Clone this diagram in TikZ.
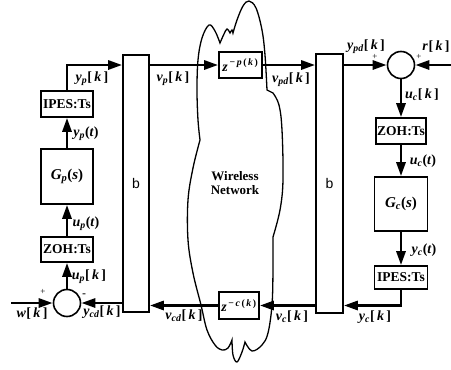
\documentclass[tikz,border=0pt]{standalone}
\usepackage{fontspec}
\setmainfont{Liberation Serif}
\newfontfamily\sansb{Liberation Sans}
\usetikzlibrary{positioning,arrows.meta,shapes}

% signal labels
\newcommand{\sgk}[2]{\textbf{\textit{#1}\textsubscript{\textit{#2}}[\,\textit{k}\,]}}
\newcommand{\sgt}[2]{\textbf{\textit{#1}\textsubscript{\textit{#2}}(\textit{t})}}
\newcommand{\sgs}[2]{\textbf{\textit{#1}\textsubscript{\textit{#2}}(\textit{s})}}

\tikzset{
  blk/.style={draw, line width=1.6pt, inner sep=0pt, font=\fontsize{13.5}{15}\selectfont\bfseries},
  sumnode/.style={circle, draw, line width=1.6pt, minimum size=27pt, inner sep=0pt},
  sig/.style={line width=2.8pt, -{Triangle[length=14pt,width=9pt]}},
  lbl/.style={inner sep=0pt, font=\fontsize{14}{16}\selectfont},
  sgn/.style={inner sep=0pt, font=\fontsize{9}{10}\selectfont}
}

\begin{document}
\begin{tikzpicture}[x=1pt,y=-1pt]
  \useasboundingbox (0,0) rectangle (451,370);
  % cloud
  \draw[line width=1.3pt]
    plot[smooth,tension=0.6] coordinates {(200,140) (198,120) (197,90) (198,60) (202,38) (209,25) (215,31) (220,43)}
    -- plot[smooth,tension=0.6] coordinates {(220,43) (224,34) (227,29) (230,33)}
    -- plot[smooth,tension=0.6] coordinates {(230,33) (232,30) (233,33)}
    -- plot[smooth,tension=0.6] coordinates {(233,33) (237,20) (243,6) (249,1) (256,8) (262,30) (265,55) (267,90)}
    -- (273,93)
    -- plot[smooth,tension=0.6] coordinates {(273,93) (279,105) (282,130) (283,180) (280,210) (273,237)}
    -- plot[smooth,tension=0.6] coordinates {(273,237) (273,270) (272,305) (268,333) (262,345) (252,351) (245,342)}
    -- plot[smooth,tension=0.6] coordinates {(245,342) (242,352) (237,362) (233,355) (232,340)}
    -- plot[smooth,tension=0.6] coordinates {(232,340) (228,348) (222,350) (215,345) (207,330) (201,305) (193,273) (188,240) (188,200) (193,168) (200,140)};
  \node[lbl, align=center, font=\fontsize{13}{14}\selectfont\bfseries] (net) at (235,183) {Wireless\\Network};

  % plant side
  \node[blk, minimum width=52pt, minimum height=26pt] (ipesL) at (67,104) {IPES:Ts};
  \node[blk, minimum width=52pt, minimum height=55pt, font=\fontsize{15}{17}\selectfont] (gpL) at (67,176.5) {\sgs{G}{p}};
  \node[blk, minimum width=52pt, minimum height=25pt] (zohL) at (67,249.5) {ZOH:Ts};
  \node[sumnode] (sumL) at (67,303) {};
  \node[blk, minimum width=26pt, minimum height=257pt, font=\fontsize{14}{16}\sansb] (bL) at (136,183.5) {b};

  % network delays
  \node[blk, minimum width=43pt, minimum height=26pt, font=\fontsize{14}{16}\selectfont] (zp) at (240.5,65)
    {\textbf{\textit{z}}\textsuperscript{\textbf{\,−\,\textit{p}\,(\,\textit{k}\,)}}};
  \node[blk, minimum width=40pt, minimum height=27pt, font=\fontsize{14}{16}\selectfont] (zc) at (239,305.5)
    {\textbf{\textit{z}}\textsuperscript{\textbf{\,−\,\textit{c}\,(\,\textit{k}\,)}}};

  % controller side
  \node[blk, minimum width=27pt, minimum height=259pt, font=\fontsize{14}{16}\sansb] (bR) at (329.5,183.5) {b};
  \node[sumnode] (sumR) at (401,65) {};
  \node[blk, minimum width=50pt, minimum height=26pt] (zohR) at (401,131) {ZOH:Ts};
  \node[blk, minimum width=53pt, minimum height=54pt, font=\fontsize{15}{17}\selectfont] (gcR) at (401,204) {\sgs{G}{c}};
  \node[blk, minimum width=53pt, minimum height=23pt] (ipesR) at (401,277.5) {IPES:Ts};

  \coordinate (win) at (11,303);
  \coordinate (rin) at (451,65);

  % connectors
  \draw[sig] (ipesL.north) |- (bL.west |- zp);
  \draw[sig] (gpL.north) -- (ipesL.south);
  \draw[sig] (zohL.north) -- (gpL.south);
  \draw[sig] (sumL.north) -- (zohL.south);
  \draw[sig] (win) -- (sumL.west);
  \draw[sig] (bL.west |- sumL) -- (sumL.east);
  \draw[sig] (bL.east |- zp) -- (zp.west);
  \draw[sig] (zp.east) -- (bR.west |- zp);
  \draw[sig] (bR.east |- sumR) -- (sumR.west);
  \draw[sig] (rin) -- (sumR.east);
  \draw[sig] (sumR.south) -- (zohR.north);
  \draw[sig] (zohR.south) -- (gcR.north);
  \draw[sig] (gcR.south) -- (ipesR.north);
  \draw[sig] (ipesR.south) |- (bR.east |- zc);
  \draw[sig] (bR.west |- zc) -- (zc.east);
  \draw[sig] (zc.west) -- (bL.east |- zc);

  % labels
  \node[lbl] (lypk) at (92,79) {\sgk{y}{p}};
  \node[lbl] (lypt) at (86,134) {\sgt{y}{p}};
  \node[lbl] (lupt) at (86,224) {\sgt{u}{p}};
  \node[lbl] (lupk) at (89,277) {\sgk{u}{p}};
  \node[lbl] (lwk) at (32,314) {\sgk{w}{}};
  \node[sgn] (pw) at (43,292) {+};
  \node[sgn, font=\fontsize{12}{12}\sansb] (my) at (84,296) {-};
  \node[lbl] (lycd) at (102,312) {\sgk{y}{cd}};
  \node[lbl] (lvcd) at (184,316) {\sgk{v}{cd}};
  \node[lbl] (lvp) at (173,79) {\sgk{v}{p}};
  \node[lbl] (lvpd) at (291,80) {\sgk{v}{pd}};
  \node[lbl] (lypd) at (366,47) {\sgk{y}{pd}};
  \node[sgn] (py) at (375,57) {+};
  \node[lbl] (lrk) at (436,47) {\sgk{r}{}};
  \node[sgn] (pr) at (419,57) {+};
  \node[lbl] (luck) at (422,95) {\sgk{u}{c}};
  \node[lbl] (luct) at (423,161) {\sgt{u}{c}};
  \node[lbl] (lyct) at (424,250) {\sgt{y}{c}};
  \node[lbl] (lyck) at (375,317) {\sgk{y}{c}};
  \node[lbl] (lvck) at (292,317) {\sgk{v}{c}};
\end{tikzpicture}
\end{document}
